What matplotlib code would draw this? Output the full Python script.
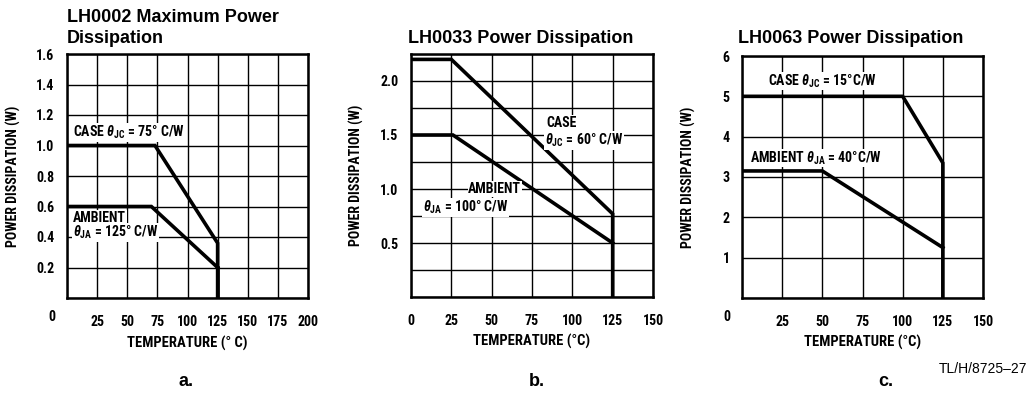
import matplotlib
matplotlib.use("Agg")
import matplotlib.pyplot as plt

# ---------------- data ----------------
a_case_x = [0, 73, 125, 125]
a_case_y = [1.0, 1.0, 0.36, 0.0]
a_amb_x = [0, 70, 125]
a_amb_y = [0.6, 0.6, 0.2]

b_case_x = [0, 25, 125, 125]
b_case_y = [2.2, 2.2, 0.77, 0.0]
b_amb_x = [0, 26, 125]
b_amb_y = [1.5, 1.5, 0.5]

c_case_x = [0, 100, 125, 125]
c_case_y = [5.0, 5.0, 3.35, 0.0]
c_amb_x = [0, 50, 125]
c_amb_y = [3.15, 3.15, 1.25]

a_xticks = [0, 25, 50, 75, 100, 125, 150, 175, 200]
a_yticks = [0, 0.2, 0.4, 0.6, 0.8, 1.0, 1.2, 1.4, 1.6]
a_ylabels = ["", "0.2", "0.4", "0.6", "0.8", "1.0", "1.2", "1.4", "1.6"]
b_xticks = [0, 25, 50, 75, 100, 125, 150]
b_yticks = [0, 0.25, 0.5, 0.75, 1.0, 1.25, 1.5, 1.75, 2.0, 2.25]
b_ylabels = ["", "", "0.5", "", "1.0", "", "1.5", "", "2.0", ""]
c_xticks = [0, 25, 50, 75, 100, 125, 150]
c_yticks = [0, 1, 2, 3, 4, 5, 6]
c_ylabels = ["", "1", "2", "3", "4", "5", "6"]

# ---------------- style ----------------
COND = ['Roboto Condensed', 'DejaVu Sans']
REG = ['Liberation Sans', 'DejaVu Sans']
plt.rcParams['font.family'] = COND
plt.rcParams['font.weight'] = 'bold'
plt.rcParams['axes.labelweight'] = 'bold'
plt.rcParams['mathtext.fontset'] = 'custom'
plt.rcParams['mathtext.rm'] = 'Roboto Condensed:bold'
plt.rcParams['mathtext.bf'] = 'Roboto Condensed:bold'
plt.rcParams['mathtext.it'] = 'Roboto Condensed:italic'

W, H = 1030, 401
fig = plt.figure(figsize=(W / 100, H / 100), dpi=100)


def rect(l, r, t, b):
    return [l / W, 1 - b / H, (r - l) / W, (b - t) / H]


LW = 2.6
TICKFS = 10
YLABFS = 10
XLABFS = 10.5
ANNFS = 10


def setup(ax, xlim, ylim, xticks, yticks, ylabels, zero_corner, xlabel):
    ax.set_xlim(*xlim)
    ax.set_ylim(*ylim)
    ax.set_xticks(xticks)
    xl = [str(v) for v in xticks]
    if zero_corner:
        xl[0] = ""
    ax.set_xticklabels(xl)
    ax.set_yticks(yticks)
    ax.set_yticklabels(ylabels)
    ax.tick_params(length=0, labelsize=TICKFS)
    ax.tick_params(axis='x', pad=12)
    ax.tick_params(axis='y', pad=9)
    ax.grid(True, color='black', lw=1.0)
    ax.set_axisbelow(True)
    for s in ax.spines.values():
        s.set_linewidth(1.8)
    ax.set_ylabel("POWER DISSIPATION (W)", fontsize=YLABFS)
    ax.set_xlabel(xlabel, fontsize=XLABFS)
    ax.xaxis.set_label_coords(0.5, -45 / 244)
    ax.xaxis.label.set_va('center')
    ax.yaxis.set_label_coords(-54 / 241, 0.5)
    ax.yaxis.label.set_va('center')
    if zero_corner:
        ax.text(-15 / 241, -19 / 244, "0", transform=ax.transAxes,
                ha='center', va='center', fontsize=TICKFS)


BG = dict(facecolor='white', edgecolor='none', pad=0.5)

# ---- a ----
ax = fig.add_axes(rect(67, 308, 54, 298))
setup(ax, (0, 200), (0, 1.6), a_xticks, a_yticks, a_ylabels, True, "TEMPERATURE (° C)")
ax.plot(a_case_x, a_case_y, color='black', lw=LW, solid_joinstyle='miter')
ax.plot(a_amb_x, a_amb_y, color='black', lw=LW, solid_joinstyle='miter')
ax.plot([125, 125], [0.2, 0.0], color='black', lw=LW)
ax.text(5, 1.085, r"CASE $\mathit{\theta}_{\mathbf{JC}}$ = 75° C/W", fontsize=ANNFS,
        va='center', ha='left', bbox=BG)
ax.text(5, 0.525, "AMBIENT", fontsize=ANNFS, va='center', ha='left', bbox=BG)
ax.text(5, 0.43, r"$\mathit{\theta}_{\mathbf{JA}}$ = 125° C/W", fontsize=ANNFS,
        va='center', ha='left', bbox=BG)

# ---- b ----
ax = fig.add_axes(rect(411, 653, 54, 297))
setup(ax, (0, 150), (0, 2.25), b_xticks, b_yticks, b_ylabels, False, "TEMPERATURE (°C)")
ax.plot(b_case_x, b_case_y, color='black', lw=LW, solid_joinstyle='miter')
ax.plot(b_amb_x, b_amb_y, color='black', lw=LW, solid_joinstyle='miter')
ax.text(84, 1.61, "CASE", fontsize=ANNFS, va='center', ha='left', bbox=BG)
ax.text(83, 1.45, r"$\mathit{\theta}_{\mathbf{JC}}$ = 60° C/W", fontsize=ANNFS,
        va='center', ha='left', bbox=BG)
ax.text(35.5, 1.0, "AMBIENT", fontsize=ANNFS, va='center', ha='left', bbox=BG)
ax.text(7.5, 0.83, r"$\mathit{\theta}_{\mathbf{JA}}$ = 100° C/W", fontsize=ANNFS,
        va='center', ha='left', bbox=BG)

# ---- c ----
ax = fig.add_axes(rect(742, 983, 56, 298))
setup(ax, (0, 150), (0, 6), c_xticks, c_yticks, c_ylabels, True, "TEMPERATURE (°C)")
ax.plot(c_case_x, c_case_y, color='black', lw=LW, solid_joinstyle='miter')
ax.plot(c_amb_x, c_amb_y, color='black', lw=LW, solid_joinstyle='miter')
ax.text(16, 5.38, r"CASE $\mathit{\theta}_{\mathbf{JC}}$ = 15°C/W", fontsize=ANNFS,
        va='center', ha='left', bbox=BG)
ax.text(4.8, 3.47, r"AMBIENT $\mathit{\theta}_{\mathbf{JA}}$ = 40°C/W", fontsize=ANNFS,
        va='center', ha='left', bbox=BG)

# ---- titles and captions ----
TFS = 13
fig.text(67 / W, 1 - 21.7 / H, "LH0002 Maximum Power", family=REG, weight='bold',
         fontsize=TFS, va='baseline', ha='left')
fig.text(67 / W, 1 - 42.7 / H, "Dissipation", family=REG, weight='bold',
         fontsize=TFS, va='baseline', ha='left')
fig.text(408 / W, 1 - 42.7 / H, "LH0033 Power Dissipation", family=REG, weight='bold',
         fontsize=TFS, va='baseline', ha='left')
fig.text(738 / W, 1 - 42.7 / H, "LH0063 Power Dissipation", family=REG, weight='bold',
         fontsize=TFS, va='baseline', ha='left')

fig.text(186 / W, 1 - 386 / H, "a.", family=REG, weight='bold', fontsize=13,
         va='baseline', ha='center')
fig.text(537 / W, 1 - 386 / H, "b.", family=REG, weight='bold', fontsize=13,
         va='baseline', ha='center')
fig.text(886 / W, 1 - 386 / H, "c.", family=REG, weight='bold', fontsize=13,
         va='baseline', ha='center')
fig.text(1027 / W, 1 - 373 / H, "TL/H/8725\u201327", family=REG, weight='normal',
         fontsize=10, va='baseline', ha='right')

fig.savefig("out.png", dpi=100)
